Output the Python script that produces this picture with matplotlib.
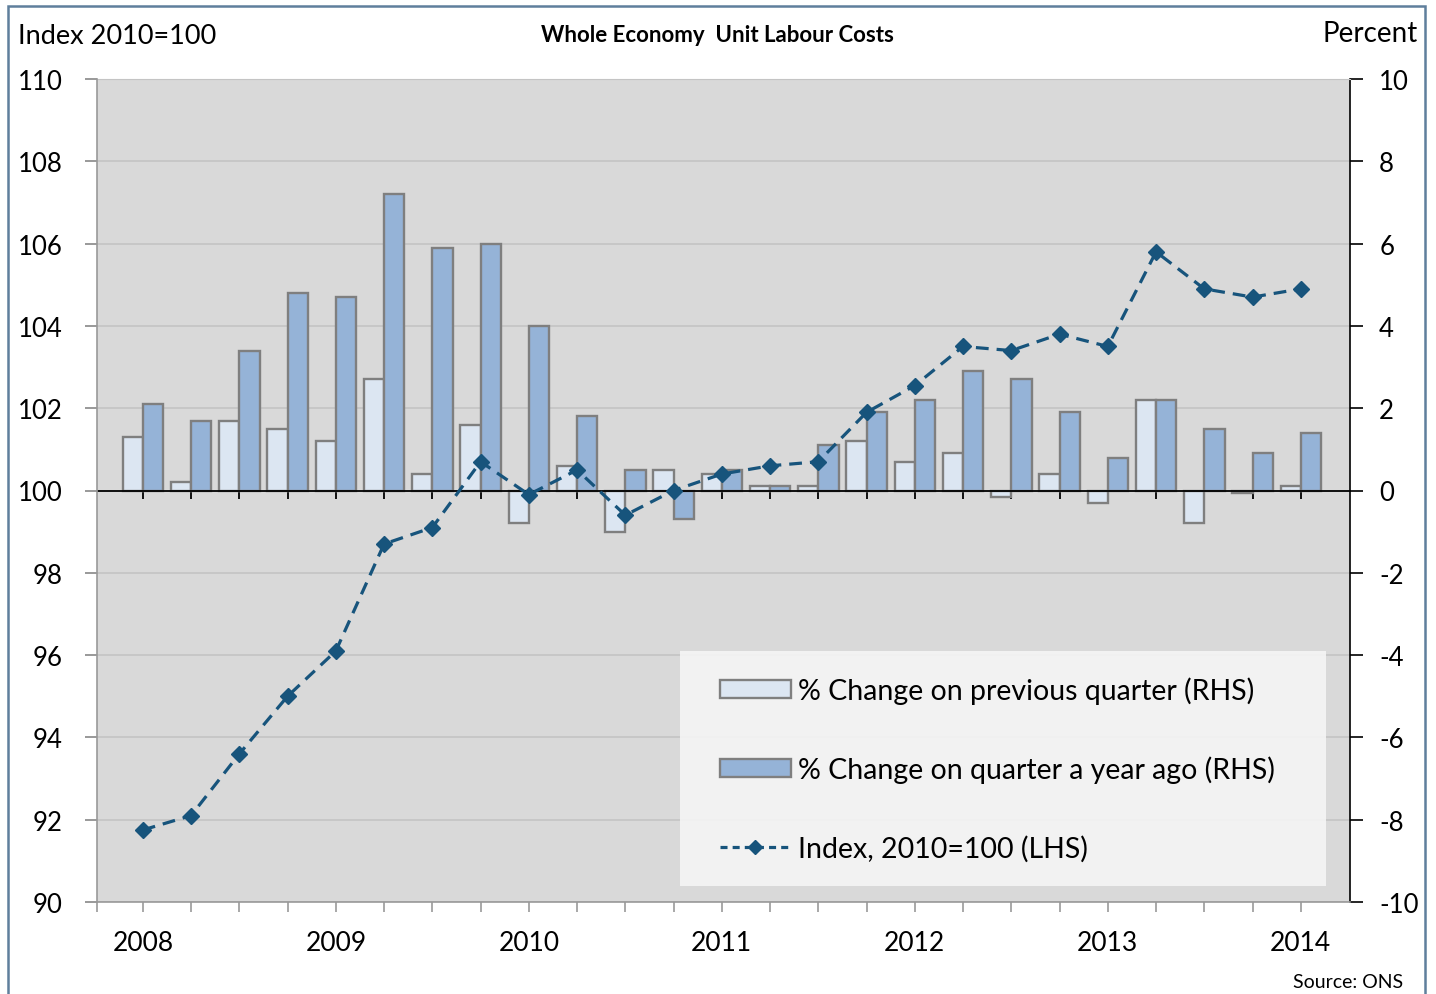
import numpy as np
import matplotlib
matplotlib.use("Agg")
import matplotlib.pyplot as plt
from matplotlib.patches import Rectangle, Patch
from matplotlib.lines import Line2D

plt.rcParams['font.family'] = ['Lato', 'DejaVu Sans']
plt.rcParams['axes.unicode_minus'] = False

# data, 2008 Q1 .. 2014 Q1
quarters = ['2008 Q1', '2008 Q2', '2008 Q3', '2008 Q4',
            '2009 Q1', '2009 Q2', '2009 Q3', '2009 Q4',
            '2010 Q1', '2010 Q2', '2010 Q3', '2010 Q4',
            '2011 Q1', '2011 Q2', '2011 Q3', '2011 Q4',
            '2012 Q1', '2012 Q2', '2012 Q3', '2012 Q4',
            '2013 Q1', '2013 Q2', '2013 Q3', '2013 Q4',
            '2014 Q1']
year_labels = ['2008', '2009', '2010', '2011', '2012', '2013', '2014']
change_prev_quarter = [1.3, 0.2, 1.7, 1.5, 1.2, 2.7, 0.4, 1.6,
                       -0.8, 0.6, -1.0, 0.5, 0.4, 0.1, 0.1, 1.2,
                       0.7, 0.9, -0.15, 0.4, -0.3, 2.2, -0.8, -0.05, 0.1]
change_year_ago = [2.1, 1.7, 3.4, 4.8, 4.7, 7.2, 5.9, 6.0,
                   4.0, 1.8, 0.5, -0.7, 0.5, 0.1, 1.1, 1.9,
                   2.2, 2.9, 2.7, 1.9, 0.8, 2.2, 1.5, 0.9, 1.4]
index_2010 = [91.75, 92.1, 93.6, 95.0, 96.1, 98.7, 99.1, 100.7,
              99.9, 100.5, 99.4, 100.0, 100.4, 100.6, 100.7, 101.9,
              102.55, 103.5, 103.4, 103.8, 103.5, 105.8, 104.9, 104.7, 104.9]

light_blue = '#DCE6F2'
mid_blue = '#95B3D7'
edge_grey = '#7F7F7F'
line_blue = '#17547C'
bg_grey = '#D9D9D9'
grid_grey = '#C4C4C4'

x = np.arange(len(quarters))
xlim = (-0.95, len(quarters) - 1 + 1.02)
pos = [97 / 1436, 1 - 903 / 995, (1350 - 97) / 1436, (903 - 80) / 995]

fig = plt.figure(figsize=(14.36, 9.95), dpi=100)

# bars, right hand scale
ax = fig.add_axes(pos)
ax.set_facecolor(bg_grey)
w = 0.42
ax.bar(x - w / 2, change_prev_quarter, w, color=light_blue, edgecolor=edge_grey,
       linewidth=1.7, zorder=2)
ax.bar(x + w / 2, change_year_ago, w, color=mid_blue, edgecolor=edge_grey,
       linewidth=1.7, zorder=2)
ax.set_xlim(xlim)
ax.set_ylim(-10, 10)
ax.set_yticks(np.arange(-10, 11, 2))
ax.yaxis.tick_right()
ax.yaxis.grid(True, color=grid_grey, linewidth=1.2, zorder=0)
ax.set_axisbelow(True)
ax.tick_params(axis='y', direction='out', length=9, width=1.2, pad=12,
               labelsize=18.5, colors='black')
ax.spines['left'].set_visible(False)
ax.spines['top'].set_color(grid_grey)
ax.spines['right'].set_color('black')
ax.spines['right'].set_linewidth(1.2)
ax.spines['bottom'].set_position(('data', 0))
ax.spines['bottom'].set_color('black')
ax.spines['bottom'].set_linewidth(1.3)
ax.spines['bottom'].set_zorder(3)
ax.set_xticks(x)
ax.tick_params(axis='x', direction='out', length=6, width=1.3, labelbottom=False,
               colors='black')

# index line, left hand scale
ax2 = fig.add_axes(pos)
ax2.patch.set_visible(False)
ax2.plot(x, index_2010, color=line_blue, linewidth=2.3, dashes=(4, 2.5),
         marker='D', markersize=8, zorder=5)
ax2.set_xlim(xlim)
ax2.set_ylim(90, 110)
ax2.set_yticks(np.arange(90, 111, 2))
ax2.tick_params(axis='y', direction='out', length=9, width=1.2, pad=16,
                labelsize=18.5, color='#888888')
ax2.set_xticks(x[::4])
ax2.set_xticklabels(year_labels)
ax2.set_xticks(list(x) + [xlim[0]], minor=True)
ax2.tick_params(axis='x', which='both', direction='out', length=7, width=1.2,
                color='#999999', labelsize=19, pad=13)
for s in ['top', 'right']:
    ax2.spines[s].set_visible(False)
for s in ['left', 'bottom']:
    ax2.spines[s].set_color('#999999')
    ax2.spines[s].set_linewidth(1.2)

# legend
ax2.add_patch(Rectangle((0.4653, 0.0194), 0.5155, 0.2856, transform=ax2.transAxes,
                        facecolor='#F4F4F4', edgecolor='none', alpha=0.93, zorder=6))
handles = [Patch(facecolor=light_blue, edgecolor=edge_grey, linewidth=1.7),
           Patch(facecolor=mid_blue, edgecolor=edge_grey, linewidth=1.7),
           Line2D([0], [0], color=line_blue, linewidth=2.3, dashes=(2.2, 1.6),
                  marker='D', markersize=7)]
labels = ['% Change on previous quarter (RHS)',
          '% Change on quarter a year ago (RHS)',
          'Index, 2010=100 (LHS)']
leg = ax2.legend(handles, labels, loc='upper left', bbox_to_anchor=(0.497, 0.274),
                 frameon=False, fontsize=20.5, handlelength=2.5, handleheight=0.62,
                 handletextpad=0.25, labelspacing=1.81, borderpad=0, borderaxespad=0)
leg.set_zorder(7)

# texts
fig.text(18 / 1436, 1 - 36 / 995, 'Index 2010=100', fontsize=19.5, ha='left', va='center')
fig.text(717 / 1436, 1 - 35 / 995, 'Whole Economy  Unit Labour Costs', fontsize=16,
         fontweight='bold', ha='center', va='center')
fig.text(1418 / 1436, 1 - 34 / 995, 'Percent', fontsize=20, ha='right', va='center')
fig.text(1403 / 1436, 1 - 983 / 995, 'Source: ONS', fontsize=14, ha='right', va='center')

# outer frame
fig.patches.append(Rectangle((8 / 1436, -0.02), (1425 - 8) / 1436, 1.02 - 7 / 995,
                             transform=fig.transFigure, fill=False,
                             edgecolor='#5F7F9C', linewidth=1.8))

fig.savefig('out.png', dpi=100)
